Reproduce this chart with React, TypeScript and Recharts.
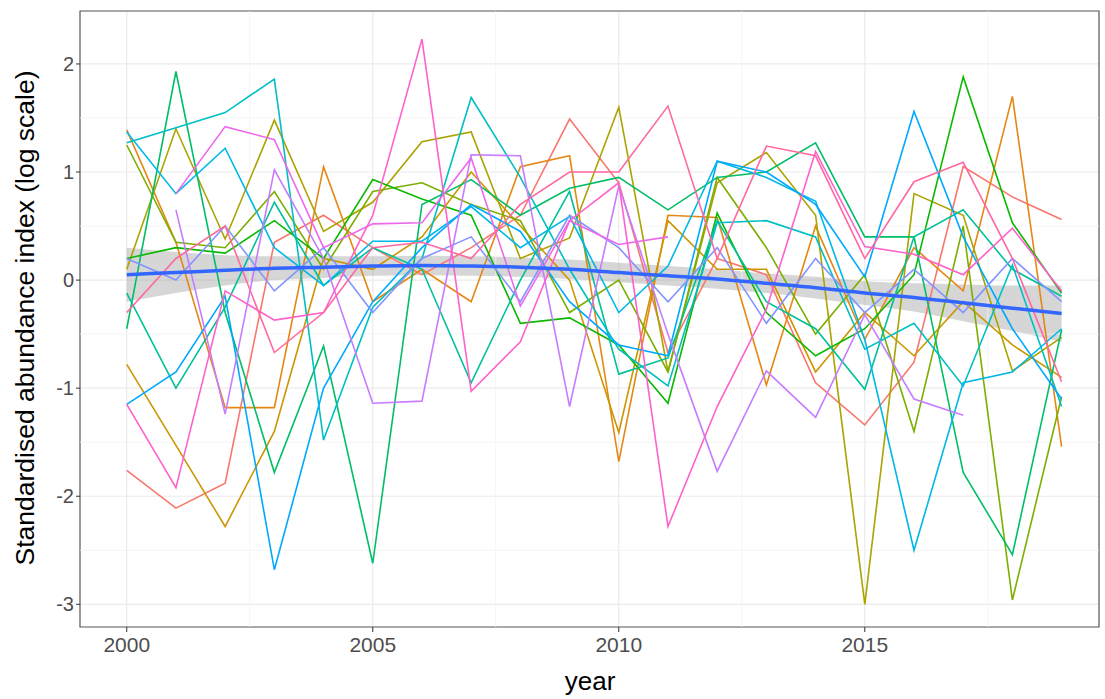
import { ComposedChart, Line, Area, XAxis, YAxis, CartesianGrid, ReferenceLine, ReferenceArea } from "recharts";

// years on the x axis
const years = [2000, 2001, 2002, 2003, 2004, 2005, 2006, 2007, 2008, 2009, 2010, 2011, 2012, 2013, 2014, 2015, 2016, 2017, 2018, 2019];

const xTicks = [2000, 2005, 2010, 2015];
const yTicks = [-3, -2, -1, 0, 1, 2];
const xMinor = [2002.5, 2007.5, 2012.5, 2017.5];
const yMinor = [-2.5, -1.5, -0.5, 0.5, 1.5];

// ggplot hue palette, 16 series
const seriesColors = [
  "#F8766D", "#E68613", "#CD9600", "#ABA300", "#7CAE00", "#0CB702", "#00BE67", "#00C19A",
  "#00BFC4", "#00B8E7", "#00A9FF", "#8494FF", "#C77CFF", "#ED68ED", "#FF61CC", "#FF68A1"
];

const s01 = [-1.76, -2.11, -1.88, 0.35, 0.6, 0.3, 0.05, 0.3, 0.6, 1.49, 0.9, -0.67, 0.2, 0.05, -0.95, -1.34, -0.76, 1.05, 0.77, 0.56];
const s02 = [1.39, 0.35, -1.18, -1.18, 1.05, -0.2, 0.1, -0.2, 1.05, 1.15, -1.68, 0.6, 0.58, -0.97, 0.5, -0.55, 0.3, -0.1, 1.7, -1.54];
const s03 = [-0.78, -1.53, -2.28, -1.4, 0.2, 0.1, 0.4, 1.0, 0.5, 0.0, -1.41, 0.55, 0.1, 0.1, -0.85, -0.3, -0.7, -0.2, -0.6, -0.9];
const s04 = [0.1, 1.4, 0.38, 1.48, 0.45, 0.72, 1.28, 1.37, 0.2, 0.39, 1.6, -0.85, 0.9, 1.18, 0.6, -3.0, 0.8, 0.6, -0.84, -0.53];
const s05 = [1.25, 0.35, 0.3, 0.82, 0.1, 0.82, 0.9, 0.7, 0.55, -0.3, 0.0, -0.85, 0.95, 0.3, -0.5, 0.05, -1.4, 0.5, -2.96, -1.08];
const s06 = [0.2, 0.3, 0.25, 0.55, 0.2, 0.93, 0.75, 0.6, -0.4, -0.35, -0.6, -1.14, 0.62, -0.3, -0.7, -0.45, 0.05, 1.88, 0.53, -0.12];
const s07 = [-0.45, 1.93, -0.3, -1.78, -0.61, -2.62, 0.7, 0.93, 0.6, 0.85, 0.95, 0.65, 0.95, 1.0, 1.27, 0.4, 0.4, -1.78, -2.54, -0.46];
const s08 = [-0.12, -1.0, -0.25, 0.72, -0.05, 0.3, 0.1, -0.95, 0.0, 0.82, -0.87, -0.72, 0.55, -0.2, -0.45, -1.01, 0.4, 0.65, 0.1, -0.15];
const s09 = [1.27, 1.41, 1.55, 1.86, -1.48, -0.25, 0.2, 1.69, 0.95, 0.1, -0.64, -0.98, 0.53, 0.55, 0.4, -0.64, -0.4, -0.98, 0.14, -1.17];
const s10 = [1.37, 0.8, 1.22, 0.3, -0.05, 0.36, 0.36, 0.68, 0.3, 0.59, -0.3, 0.13, 1.1, 0.95, 0.73, -0.55, -2.5, -0.95, -0.85, -0.45];
const s11 = [-1.15, -0.85, -0.15, -2.68, -1.0, -0.2, 0.3, 0.7, 0.45, -0.2, -0.6, -0.7, 1.1, 1.0, 0.7, 0.03, 1.56, 0.4, -0.45, -1.1];
const s12 = [0.2, 0.0, 0.5, -0.1, 0.3, -0.3, 0.2, 0.4, -0.2, 0.6, 0.3, -0.2, 0.3, -0.4, 0.2, -0.3, 0.1, -0.3, 0.2, -0.2];
const s13 = [null, 0.65, -1.24, 1.02, 0.2, -1.14, -1.12, 1.16, 1.15, -1.17, 0.87, -0.5, -1.77, -0.84, -1.27, -0.32, -1.1, -1.25, null, null];
const s14 = [null, 0.8, 1.42, 1.3, 0.3, 0.52, 0.53, 1.13, -0.24, 0.55, 0.33, 0.4, null, null, null, null, null, null, null, null];
const s15 = [-1.15, -1.92, -0.1, -0.37, -0.3, 0.6, 2.23, -1.03, -0.57, 0.55, 0.9, -2.28, -1.17, -0.27, 1.19, 0.31, 0.24, 0.05, 0.48, -0.1];
const s16 = [-0.3, 0.2, 0.5, -0.67, -0.3, 0.3, 0.35, 0.2, 0.7, 1.0, 1.0, 1.61, 0.2, 1.24, 1.15, 0.2, 0.91, 1.09, 0.2, -0.94];

const series = [s01, s02, s03, s04, s05, s06, s07, s08, s09, s10, s11, s12, s13, s14, s15, s16];

// loess fit and half width of its confidence band
const smoothFit = [0.05, 0.07, 0.09, 0.11, 0.12, 0.13, 0.135, 0.13, 0.12, 0.1, 0.07, 0.04, 0.01, -0.03, -0.07, -0.12, -0.16, -0.21, -0.26, -0.31];
const smoothHalf = [0.25, 0.19, 0.14, 0.11, 0.1, 0.09, 0.09, 0.09, 0.09, 0.09, 0.09, 0.09, 0.09, 0.09, 0.1, 0.11, 0.13, 0.17, 0.21, 0.26];

const rows = years.map((year, i) => {
  const row: Record<string, any> = {
    year,
    fit: smoothFit[i],
    band: [smoothFit[i] - smoothHalf[i], smoothFit[i] + smoothHalf[i]]
  };
  series.forEach((s, k) => {
    row[`s${k}`] = s[i];
  });
  return row;
});

const X_DOMAIN: [number, number] = [1999.05, 2019.76];
const Y_DOMAIN: [number, number] = [-3.21, 2.49];
const font = '"Liberation Sans", Arial, sans-serif';

export default function App() {
  return (
    <div style={{ position: "absolute", left: 0, top: 0, width: 1105, height: 699, background: "#fff", fontFamily: font }}>
      <ComposedChart width={1105} height={699} data={rows} margin={{ top: 11, right: 6, bottom: 36, left: 20 }}>
        <CartesianGrid stroke="#ebebeb" strokeWidth={1.2} verticalValues={xTicks} horizontalValues={yTicks} />
        {xMinor.map((v) => (
          <ReferenceLine key={`xm${v}`} x={v} stroke="#f3f3f3" strokeWidth={0.8} />
        ))}
        {yMinor.map((v) => (
          <ReferenceLine key={`ym${v}`} y={v} stroke="#f3f3f3" strokeWidth={0.8} />
        ))}
        <XAxis
          dataKey="year"
          type="number"
          domain={X_DOMAIN}
          ticks={xTicks}
          allowDataOverflow
          height={36}
          tickSize={5}
          tickMargin={5}
          axisLine={false}
          tickLine={{ stroke: "#333" }}
          tick={{ fill: "#4d4d4d", fontSize: 21, fontFamily: font }}
        />
        <YAxis
          type="number"
          domain={Y_DOMAIN}
          ticks={yTicks}
          allowDataOverflow
          width={60}
          tickSize={4}
          tickMargin={2}
          axisLine={false}
          tickLine={{ stroke: "#333" }}
          tick={{ fill: "#4d4d4d", fontSize: 20, fontFamily: font }}
        />
        {series.map((_, k) => (
          <Line
            key={k}
            dataKey={`s${k}`}
            type="linear"
            stroke={seriesColors[k]}
            strokeWidth={1.6}
            dot={false}
            activeDot={false}
            connectNulls={false}
            isAnimationActive={false}
          />
        ))}
        <Area dataKey="band" type="monotone" stroke="none" fill="#999999" fillOpacity={0.4} isAnimationActive={false} />
        <Line dataKey="fit" type="monotone" stroke="#3366FF" strokeWidth={3.5} dot={false} activeDot={false} isAnimationActive={false} />
        <ReferenceArea x1={X_DOMAIN[0]} x2={X_DOMAIN[1]} y1={Y_DOMAIN[0]} y2={Y_DOMAIN[1]} fill="none" stroke="#555" strokeWidth={1.2} ifOverflow="visible" />
      </ComposedChart>
      <div style={{ position: "absolute", left: 590, top: 681, transform: "translate(-50%, -50%)", fontSize: 26, color: "#000" }}>year</div>
      <div
        style={{
          position: "absolute",
          left: 25,
          top: 318,
          transform: "translate(-50%, -50%) rotate(-90deg)",
          fontSize: 26.5,
          color: "#000",
          whiteSpace: "nowrap"
        }}
      >
        Standardised abundance index (log scale)
      </div>
    </div>
  );
}
